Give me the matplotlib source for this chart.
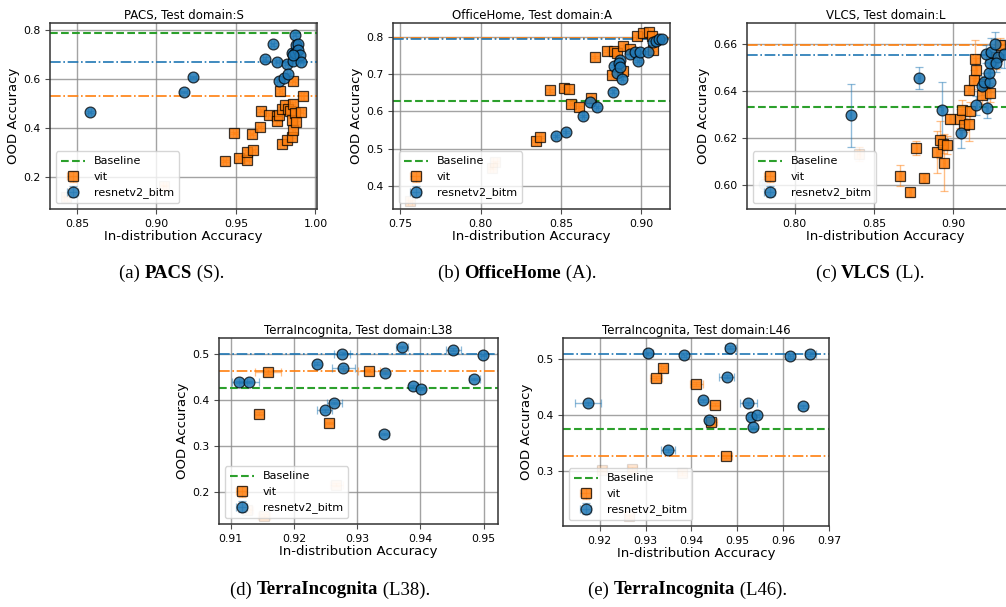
import matplotlib
matplotlib.use("Agg")
import matplotlib.pyplot as plt
import numpy as np

W, H = 1006, 607

# ---------------- PACS, test domain S ----------------
pacs_vit_x = [0.943, 0.949, 0.952, 0.957, 0.957, 0.961, 0.960, 0.965, 0.966, 0.971,
              0.976, 0.976, 0.977, 0.978, 0.979, 0.979, 0.981, 0.982, 0.983, 0.984,
              0.985, 0.986, 0.985, 0.986, 0.986, 0.987, 0.988, 0.991, 0.992]
pacs_vit_y = [0.265, 0.381, 0.280, 0.271, 0.301, 0.310, 0.375, 0.405, 0.471, 0.455,
              0.449, 0.429, 0.453, 0.552, 0.337, 0.480, 0.495, 0.351, 0.478, 0.470,
              0.365, 0.392, 0.435, 0.497, 0.594, 0.460, 0.423, 0.467, 0.530]
pacs_vit_xerr = [0.001] * 29
pacs_vit_yerr = [0.005, 0.005, 0.005, 0.005, 0.008, 0.006, 0.005, 0.005, 0.006, 0.005,
                 0.006, 0.015, 0.006, 0.008, 0.005, 0.008, 0.012, 0.005, 0.006, 0.006,
                 0.005, 0.006, 0.008, 0.008, 0.006, 0.008, 0.006, 0.005, 0.015]
pacs_vit_low_x = [0.843, 0.905]
pacs_vit_low_y = [0.120, 0.165]

pacs_res_x = [0.858, 0.917, 0.923, 0.968, 0.973, 0.976, 0.977, 0.980, 0.982, 0.983,
              0.985, 0.986, 0.987, 0.987, 0.988, 0.989, 0.989, 0.990, 0.991, 0.986]
pacs_res_y = [0.466, 0.548, 0.609, 0.684, 0.742, 0.671, 0.592, 0.605, 0.661, 0.620,
              0.705, 0.672, 0.706, 0.782, 0.740, 0.743, 0.718, 0.700, 0.671, 0.700]
pacs_res_xerr = [0.001, 0.002, 0.002] + [0.001] * 17
pacs_res_yerr = [0.005] * 20
pacs_lines = {"baseline": 0.790, "vit": 0.530, "resnetv2_bitm": 0.670}

# ---------------- OfficeHome, test domain A ----------------
oh_vit_x = [0.8346, 0.837, 0.843, 0.852, 0.855, 0.8565, 0.861, 0.869, 0.871, 0.879,
            0.882, 0.883, 0.885, 0.889, 0.889, 0.893, 0.8975, 0.901, 0.905, 0.907, 0.9075]
oh_vit_y = [0.520, 0.532, 0.656, 0.662, 0.659, 0.620, 0.6125, 0.636, 0.746, 0.762,
            0.697, 0.762, 0.757, 0.775, 0.709, 0.766, 0.803, 0.811, 0.813, 0.802, 0.764]
oh_vit_xerr = [0.0005] * 21
oh_vit_yerr = [0.003] * 21
oh_vit_low_x = [0.756, 0.807, 0.809]
oh_vit_low_y = [0.360, 0.447, 0.465]

oh_res_x = [0.847, 0.853, 0.8637, 0.868, 0.8725, 0.8823, 0.883, 0.885, 0.8867, 0.886,
            0.887, 0.888, 0.893, 0.8965, 0.898, 0.8996, 0.904, 0.9075, 0.909, 0.911, 0.913]
oh_res_y = [0.534, 0.544, 0.588, 0.626, 0.612, 0.653, 0.721, 0.702, 0.7375, 0.729,
            0.720, 0.688, 0.754, 0.760, 0.735, 0.760, 0.758, 0.787, 0.790, 0.793, 0.795]
oh_res_xerr = [0.0005] * 21
oh_res_yerr = [0.003] * 21
oh_lines = {"baseline": 0.627, "vit": 0.797, "resnetv2_bitm": 0.793}

# ---------------- VLCS, test domain L ----------------
vlcs_vit_x = [0.8664, 0.8727, 0.8769, 0.8815, 0.8899, 0.8916, 0.8941, 0.8937, 0.8962, 0.8979,
              0.9042, 0.9057, 0.9071, 0.9103, 0.9105, 0.9099, 0.9130, 0.9140, 0.9147, 0.9183,
              0.9193, 0.9231, 0.9298, 0.9270]
vlcs_vit_y = [0.6038, 0.5968, 0.6156, 0.6028, 0.6141, 0.6193, 0.6095, 0.6174, 0.6170, 0.6282,
              0.6282, 0.6321, 0.6254, 0.6258, 0.6313, 0.6405, 0.6449, 0.6536, 0.6491, 0.6384,
              0.6430, 0.6393, 0.6597, 0.6545]
vlcs_vit_xerr = [0.0005] * 24
vlcs_vit_yerr = [0.0045, 0.0020, 0.0030, 0.0020, 0.0090, 0.0080, 0.0120, 0.0040, 0.0040, 0.0020,
                 0.0040, 0.0040, 0.0030, 0.0070, 0.0040, 0.0020, 0.0040, 0.0080, 0.0050, 0.0040,
                 0.0030, 0.0040, 0.0030, 0.0050]
vlcs_vit_low_x = [0.8405]
vlcs_vit_low_y = [0.6131]

vlcs_res_x = [0.8353, 0.8784, 0.8931, 0.9050, 0.9147, 0.9214, 0.9183, 0.9197, 0.9230, 0.9225,
              0.9235, 0.9210, 0.9239, 0.9267, 0.9280, 0.9273, 0.9320]
vlcs_res_y = [0.6297, 0.6455, 0.6318, 0.6223, 0.6339, 0.6327, 0.6423, 0.6437, 0.6437, 0.6475,
              0.6520, 0.6558, 0.6567, 0.6600, 0.6543, 0.6520, 0.6558]
vlcs_res_xerr = [0.0005] * 17
vlcs_res_yerr = [0.0134, 0.0047, 0.0120, 0.0066, 0.0040, 0.0040, 0.0040, 0.0040, 0.0040, 0.0050,
                 0.0040, 0.0040, 0.0060, 0.0050, 0.0040, 0.0040, 0.0060]
vlcs_res_low_x = [0.7805]
vlcs_res_low_y = [0.6004]
vlcs_lines = {"baseline": 0.633, "vit": 0.6595, "resnetv2_bitm": 0.6555}

# ---------------- TerraIncognita, test domain L38 ----------------
l38_vit_x = [0.9159, 0.9145, 0.9319, 0.9256]
l38_vit_y = [0.4595, 0.3700, 0.4631, 0.3496]
l38_vit_xerr = [0.0021, 0.0008, 0.0017, 0.0007]
l38_vit_yerr = [0.003] * 4
l38_vit_low_x = [0.9267, 0.9126, 0.9153]
l38_vit_low_y = [0.2158, 0.1600, 0.1490]

l38_res_x = [0.9114, 0.9129, 0.9237, 0.9276, 0.9278, 0.9264, 0.9249, 0.9344, 0.9371, 0.9342,
             0.9389, 0.9401, 0.9452, 0.9499, 0.9485]
l38_res_y = [0.4385, 0.4385, 0.4783, 0.5000, 0.4696, 0.3930, 0.3770, 0.4580, 0.5145, 0.3257,
             0.4291, 0.4234, 0.5087, 0.4971, 0.4450]
l38_res_xerr = [0.0012, 0.0016, 0.0006, 0.0013, 0.0018, 0.0012, 0.0012, 0.0007, 0.0010, 0.0008,
                0.0007, 0.0006, 0.0012, 0.0004, 0.0009]
l38_res_yerr = [0.003] * 15
l38_lines = {"baseline": 0.425, "vit": 0.4625, "resnetv2_bitm": 0.4985}

# ---------------- TerraIncognita, test domain L46 ----------------
l46_vit_x = [0.9339, 0.9323, 0.9411, 0.9451, 0.9443, 0.9476]
l46_vit_y = [0.4840, 0.4662, 0.4555, 0.4187, 0.3872, 0.3267]
l46_vit_xerr = [0.0005, 0.0013, 0.0015, 0.0012, 0.0012, 0.0012]
l46_vit_yerr = [0.003] * 6
l46_vit_low_x = [0.9204, 0.9271, 0.9380, 0.9265]
l46_vit_low_y = [0.3030, 0.3040, 0.2970, 0.2200]

l46_res_x = [0.9175, 0.9306, 0.9383, 0.9485, 0.9477, 0.9425, 0.9438, 0.9349, 0.9524, 0.9530,
             0.9542, 0.9534, 0.9616, 0.9659, 0.9643]
l46_res_y = [0.4210, 0.5095, 0.5065, 0.5196, 0.4685, 0.4264, 0.3908, 0.3374, 0.4210, 0.3967,
             0.3997, 0.3783, 0.5047, 0.5089, 0.4157]
l46_res_xerr = [0.0028, 0.0010, 0.0005, 0.0012, 0.0016, 0.0008, 0.0009, 0.0016, 0.0019, 0.0006,
                0.0006, 0.0007, 0.0005, 0.0012, 0.0010]
l46_res_yerr = [0.003] * 15
l46_lines = {"baseline": 0.376, "vit": 0.327, "resnetv2_bitm": 0.509}

ORANGE = "#ff7f0e"
BLUE = "#1f77b4"
GREEN = "#2ca02c"


def rgba(c, a):
    r, g, b, _ = matplotlib.colors.to_rgba(c)
    return (r, g, b, a)


def series(ax, x, y, xerr, yerr, color, marker, label=None, faded=False):
    fa = 0.18 if faded else 0.85
    ea = 0.12 if faded else 0.5
    ka = 0.12 if faded else 0.75
    ax.errorbar(x, y, xerr=xerr, yerr=yerr, fmt=marker, ms=7.8,
                mfc=rgba(color, fa), mec=rgba("k", ka), mew=0.9,
                ecolor=rgba(color, ea), elinewidth=1.0, capsize=3, capthick=1.0,
                label=label if label else "_nolegend_", zorder=3)


def panel(ax, title, vit, res, lines, xlim, ylim, xticks, yticks,
          vit_low=None, res_low=None):
    ax.set_axisbelow(True)
    ax.grid(True, color="0.55", lw=1.0, alpha=0.8)
    ax.axhline(lines["baseline"], color=GREEN, ls="--", lw=1.5, label="Baseline", zorder=2)
    ax.axhline(lines["vit"], color=ORANGE, ls="-.", lw=1.2, zorder=2)
    ax.axhline(lines["resnetv2_bitm"], color=BLUE, ls="-.", lw=1.2, zorder=2)
    if vit_low is not None:
        series(ax, vit_low[0], vit_low[1], 0.001, 0.003, ORANGE, "s", faded=True)
    if res_low is not None:
        series(ax, res_low[0], res_low[1], 0.001, 0.003, BLUE, "o", faded=True)
    series(ax, *vit, ORANGE, "s", label="vit")
    series(ax, *res, BLUE, "o", label="resnetv2_bitm")
    ax.set_xlim(*xlim)
    ax.set_ylim(*ylim)
    ax.set_xticks(xticks)
    ax.set_yticks(yticks)
    ax.tick_params(labelsize=7.8, length=3.5, color="0.3")
    for s in ax.spines.values():
        s.set_color("0.2")
        s.set_linewidth(1.1)
    ax.set_title(title, fontsize=8.5, pad=3)
    ax.set_xlabel("In-distribution Accuracy", fontsize=9.5, labelpad=1)
    ax.set_ylabel("OOD Accuracy", fontsize=9.5, labelpad=2)
    ax.legend(loc="lower left", fontsize=8, framealpha=0.8, edgecolor="0.8",
              borderpad=0.45, labelspacing=0.5, handlelength=2.2)


fig = plt.figure(figsize=(W / 100, H / 100), dpi=100)


def px_axes(l, t, r, b):
    return fig.add_axes([l / W, 1 - b / H, (r - l) / W, (b - t) / H])


ax_a = px_axes(50, 23, 317, 209)
panel(ax_a, "PACS, Test domain:S",
      (pacs_vit_x, pacs_vit_y, pacs_vit_xerr, pacs_vit_yerr),
      (pacs_res_x, pacs_res_y, pacs_res_xerr, pacs_res_yerr),
      pacs_lines, (0.833, 1.001), (0.07, 0.829),
      [0.85, 0.90, 0.95, 1.00], [0.2, 0.4, 0.6, 0.8],
      vit_low=(pacs_vit_low_x, pacs_vit_low_y))
ax_a.xaxis.set_major_formatter(matplotlib.ticker.FormatStrFormatter("%.2f"))

ax_b = px_axes(393, 23, 670, 209)
panel(ax_b, "OfficeHome, Test domain:A",
      (oh_vit_x, oh_vit_y, oh_vit_xerr, oh_vit_yerr),
      (oh_res_x, oh_res_y, oh_res_xerr, oh_res_yerr),
      oh_lines, (0.7454, 0.918), (0.338, 0.837),
      [0.75, 0.80, 0.85, 0.90], [0.4, 0.5, 0.6, 0.7, 0.8],
      vit_low=(oh_vit_low_x, oh_vit_low_y))
ax_b.xaxis.set_major_formatter(matplotlib.ticker.FormatStrFormatter("%.2f"))

ax_c = px_axes(747, 23, 1024, 209)
panel(ax_c, "VLCS, Test domain:L",
      (vlcs_vit_x, vlcs_vit_y, vlcs_vit_xerr, vlcs_vit_yerr),
      (vlcs_res_x, vlcs_res_y, vlcs_res_xerr, vlcs_res_yerr),
      vlcs_lines, (0.770, 0.9447), (0.5897, 0.669),
      [0.80, 0.85, 0.90], [0.60, 0.62, 0.64, 0.66],
      vit_low=(vlcs_vit_low_x, vlcs_vit_low_y),
      res_low=(vlcs_res_low_x, vlcs_res_low_y))
ax_c.xaxis.set_major_formatter(matplotlib.ticker.FormatStrFormatter("%.2f"))
ax_c.yaxis.set_major_formatter(matplotlib.ticker.FormatStrFormatter("%.2f"))

ax_d = px_axes(219, 338, 498, 524)
panel(ax_d, "TerraIncognita, Test domain:L38",
      (l38_vit_x, l38_vit_y, l38_vit_xerr, l38_vit_yerr),
      (l38_res_x, l38_res_y, l38_res_xerr, l38_res_yerr),
      l38_lines, (0.90816, 0.95226), (0.1306, 0.534),
      [0.91, 0.92, 0.93, 0.94, 0.95], [0.2, 0.3, 0.4, 0.5],
      vit_low=(l38_vit_low_x, l38_vit_low_y))

ax_e = px_axes(563, 338, 829, 526)
panel(ax_e, "TerraIncognita, Test domain:L46",
      (l46_vit_x, l46_vit_y, l46_vit_xerr, l46_vit_yerr),
      (l46_res_x, l46_res_y, l46_res_xerr, l46_res_yerr),
      l46_lines, (0.912, 0.970), (0.203, 0.537),
      [0.92, 0.93, 0.94, 0.95, 0.96, 0.97], [0.3, 0.4, 0.5],
      vit_low=(l46_vit_low_x, l46_vit_low_y))

# Sub-figure captions
captions = [
    (172, 273, "(a) ", "PACS", " (S)."),
    (517, 273, "(b) ", "OfficeHome", " (A)."),
    (870, 273, "(c) ", "VLCS", " (L)."),
    (330, 590, "(d) ", "TerraIncognita", " (L38)."),
    (688, 590, "(e) ", "TerraIncognita", " (L46)."),
]
cap_font = dict(family="Liberation Serif", fontsize=13.5)
fig.canvas.draw()
renderer = fig.canvas.get_renderer()
for cx, cy, pre, name, post in captions:
    parts = [(pre, "normal"), (name, "bold"), (post, "normal")]
    texts = []
    for s, w in parts:
        t = fig.text(0, 1 - cy / H, s, fontweight=w, va="center", ha="left", **cap_font)
        texts.append(t)
    widths = [t.get_window_extent(renderer).width for t in texts]
    total = sum(widths)
    x0 = cx - total / 2
    for t, wdt in zip(texts, widths):
        t.set_x(x0 / W)
        x0 += wdt

fig.savefig("out.png", dpi=100)
